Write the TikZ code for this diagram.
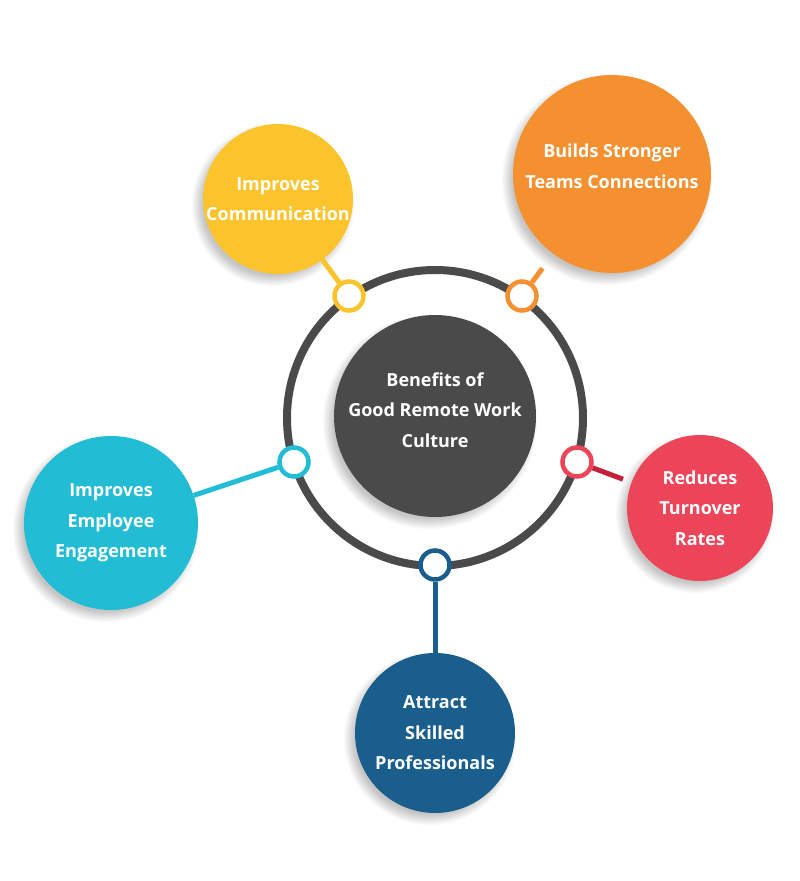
\documentclass[tikz,border=0pt]{standalone}
\usepackage{fontspec}
\setmainfont{Open Sans}
\definecolor{cyel}{HTML}{FBC42D}
\definecolor{cora}{HTML}{F4902F}
\definecolor{cred}{HTML}{EC4459}
\definecolor{credd}{HTML}{C51F3A}
\definecolor{cteal}{HTML}{22BCD5}
\definecolor{cblue}{HTML}{1A5E8D}
\definecolor{cgray}{HTML}{4A4A4A}
\newcommand{\softshadow}[3]{%
  \foreach \k in {0,...,9}{\fill[black,opacity=0.022] (#1-5,#2+6) circle[radius=#3+6-1.2*\k];}}
\begin{document}
\begin{tikzpicture}[x=1pt,y=-1pt,
  txt/.style={text=white,align=center,font=\fontsize{18}{30.5}\selectfont\bfseries},
  bigc/.style={circle,inner sep=0pt,txt},
  knob/.style={circle,draw=#1,fill=white,line width=4.5pt,minimum size=29pt,inner sep=0pt},
  stub/.style={draw=#1,line width=5pt}]
\fill[white] (0,0) rectangle (800,881);
\useasboundingbox (0,0) rectangle (800,881);
% ring
\node[circle,draw=cgray,line width=8pt,minimum size=296pt,inner sep=0pt] (ring) at (435,418) {};
% shadows
\softshadow{435}{416}{101}
\softshadow{278}{199}{75}
\softshadow{612}{174}{99}
\softshadow{700}{508}{73}
\softshadow{111}{523}{87}
\softshadow{435}{733}{80}
% center
\node[bigc,fill=cgray,minimum size=202pt] (center) at (435,416) {};
\node[txt] (ctext) at (435,410) {Benefits of\\Good Remote Work\\Culture};
% big circles
\node[bigc,fill=cyel,minimum size=150pt] (by) at (278,199) {Improves\\Communication};
\node[bigc,fill=cora,minimum size=198pt] (bo) at (612,174) {};
\node[txt] (otext) at (612,166) {Builds Stronger\\Teams Connections};
\node[bigc,fill=cred,minimum size=146pt] (br) at (700,508) {Reduces\\Turnover\\Rates};
\node[bigc,fill=cteal,minimum size=174pt] (bt) at (111,523) {Improves\\Employee\\Engagement};
\node[bigc,fill=cblue,minimum size=160pt] (bb) at (435,733) {Attract\\Skilled\\Professionals};
% knobs
\node[knob=cyel] (ky) at (349,296) {};
\node[knob=cora] (ko) at (522,296) {};
\node[knob=cred] (kr) at (577,462) {};
\node[knob=cteal] (kt) at (294,462) {};
\node[knob=cblue] (kb) at (435,565) {};
% stubs
\draw[stub=cyel] (ky) -- (by);
\draw[stub=cora,shorten >=18pt] (ko) -- (bo);
\draw[stub=credd,shorten >=9pt] (kr) -- (br);
\draw[stub=cteal] (kt) -- (bt);
\draw[stub=cblue] (kb) -- (bb);
\end{tikzpicture}
\end{document}
